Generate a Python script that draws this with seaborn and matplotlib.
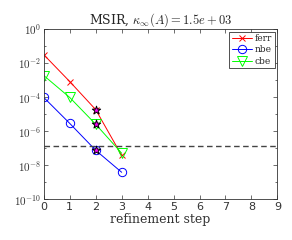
import matplotlib
matplotlib.use('Agg')
import matplotlib.pyplot as plt
import seaborn as sns
import pandas as pd
import numpy as np
from matplotlib.ticker import FixedLocator, NullFormatter, FuncFormatter

sns.set_theme(style="ticks")
plt.rcParams['font.family'] = ['DejaVu Sans']
plt.rcParams['mathtext.fontset'] = 'cm'

steps = [0, 1, 2, 3]
ferr = [3.0e-2, 8.0e-4, 1.8e-5, 3.7e-8]
nbe = [9.3e-5, 2.8e-6, 7.4e-8, 3.8e-9]
cbe = [1.8e-3, 9.3e-5, 2.5e-6, 5.0e-8]
threshold = 1.3e-7
star_step = 2

df = pd.DataFrame({"step": steps * 3,
                   "value": ferr + nbe + cbe,
                   "series": ["ferr"] * 4 + ["nbe"] * 4 + ["cbe"] * 4})

fig, ax = plt.subplots(figsize=(2.92, 2.4), dpi=100)
palette = {"ferr": "#ff0000", "nbe": "#0000ff", "cbe": "#00ff00"}
markers = {"ferr": "x", "nbe": "o", "cbe": "v"}
sizes = {"ferr": 4, "nbe": 6, "cbe": 6.5}
for name in ["ferr", "nbe", "cbe"]:
    sub = df[df.series == name]
    sns.lineplot(data=sub, x="step", y="value", ax=ax, color=palette[name],
                 marker=markers[name], markersize=sizes[name], markerfacecolor='none',
                 markeredgecolor=palette[name], markeredgewidth=0.7, linewidth=0.7,
                 label=name)

stars = df[df.step == star_step]
ax.scatter(stars.step, stars.value, marker='*', s=40, facecolor='#ff00ff',
           edgecolor='black', linewidth=0.7, zorder=5)
ax.axhline(threshold, color='#444444', linestyle='--', linewidth=1.0, dashes=(4, 2.5))

ax.set_yscale('log')
ax.set_xlim(0, 9)
ax.set_ylim(1e-10, 1)
ax.xaxis.set_major_locator(FixedLocator(range(10)))
ax.yaxis.set_major_locator(FixedLocator([1e-10, 1e-8, 1e-6, 1e-4, 1e-2, 1]))
ax.yaxis.set_major_formatter(FuncFormatter(
    lambda v, p: r"$\mathsf{10^{%d}}$" % int(round(np.log10(v)))))
ax.yaxis.set_minor_locator(FixedLocator([1e-9, 1e-7, 1e-5, 1e-3, 1e-1]))
ax.yaxis.set_minor_formatter(NullFormatter())
ax.tick_params(which='both', direction='in', top=True, right=True, labelsize=8,
               length=3, width=0.5, color='#333333', labelcolor='#333333', pad=2)
ax.tick_params(which='minor', length=1.5)
for s in ax.spines.values():
    s.set_linewidth(0.6)
    s.set_color('#333333')

ax.set_xlabel("refinement step", family='serif', fontsize=9, labelpad=1, color='#333333')
ax.set_ylabel("")
ax.set_title(r"MSIR, $\kappa_\infty(A) = 1.5e+03$", family='serif', fontsize=9, pad=4)

leg = ax.legend(loc='upper right', prop={'family': 'serif', 'size': 6.5},
                fancybox=False, edgecolor='#333333', framealpha=1, handlelength=2.2,
                borderpad=0.3, labelspacing=0.25, handletextpad=0.3, borderaxespad=0.3)
leg.get_frame().set_linewidth(0.6)

fig.subplots_adjust(left=0.15, right=0.95, bottom=0.17, top=0.88)
fig.savefig("out.png", dpi=100)
